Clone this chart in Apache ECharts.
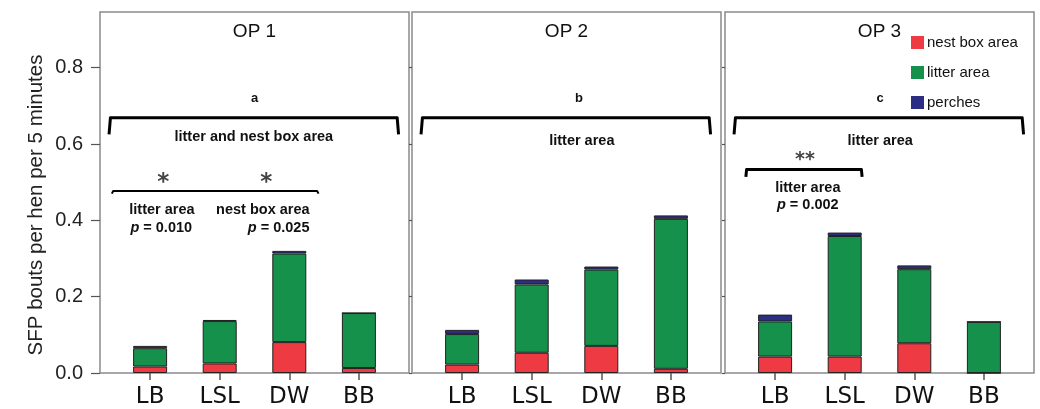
<!DOCTYPE html>
<html><head><meta charset="utf-8">
<script src="https://cdn.jsdelivr.net/npm/echarts@6/dist/echarts.min.js"></script>
<style>html,body{margin:0;padding:0;background:#fff}#c{width:1040px;height:409px}</style>
</head><body><div id="c"></div>
<script>
// ---- data ----
const categories = ['LB', 'LSL', 'DW', 'BB'];
const panelTitles = ['OP 1', 'OP 2', 'OP 3'];
const seriesNames = ['nest box area', 'litter area', 'perches'];
const yTicks = [0, 0.2, 0.4, 0.6, 0.8];
const nestBox1 = [0.017, 0.025, 0.081, 0.013];
const litter1  = [0.048, 0.111, 0.232, 0.144];
const perches1 = [0.006, 0.003, 0.007, 0.000];
const nestBox2 = [0.022, 0.053, 0.071, 0.011];
const litter2  = [0.080, 0.179, 0.200, 0.393];
const perches2 = [0.011, 0.013, 0.008, 0.009];
const nestBox3 = [0.043, 0.043, 0.078, 0.000];
const litter3  = [0.092, 0.316, 0.194, 0.134];
const perches3 = [0.018, 0.009, 0.010, 0.000];
const groupLetters = ['a', 'b', 'c'];
const groupNotes = ['litter and nest box area', 'litter area', 'litter area'];

const panels = [
  [nestBox1, litter1, perches1],
  [nestBox2, litter2, perches2],
  [nestBox3, litter3, perches3]
];
const colors = ['#ee3b43', '#15914b', '#2b2e82'];

// ---- layout ----
const gridLefts = [100, 412, 725];
const gridWidth = 309;
const chart = echarts.init(document.getElementById('c'), null, {renderer: 'canvas'});
const FONT = 'Liberation Sans, Arial, sans-serif';
const idx = categories.map((c, i) => i);

const grids = [], xAxes = [], yAxes = [], series = [], titles = [];
panels.forEach((p, g) => {
  grids.push({left: gridLefts[g], width: gridWidth, top: 12, bottom: 35,
    show: true, borderColor: '#8a8a8a', borderWidth: 1.5, backgroundColor: '#fff'});
  xAxes.push({type: 'value', gridIndex: g, min: -0.72, max: 3.72,
    axisLine: {show: false, onZero: false}, splitLine: {show: false},
    axisTick: {show: true, customValues: idx, length: 7, lineStyle: {color: '#555', width: 1.5}},
    axisLabel: {show: true, customValues: idx, margin: 13, fontFamily: 'DejaVu Sans', fontSize: 23, color: '#111',
      formatter: v => categories[Math.round(v)]}
  });
  yAxes.push({type: 'value', gridIndex: g, min: 0, max: 0.946, interval: 0.2,
    axisLine: {show: false, onZero: false}, splitLine: {show: false},
    axisTick: {show: true, customValues: yTicks, length: g === 0 ? 9 : 3, lineStyle: {color: '#555', width: 1.2}},
    axisLabel: {show: g === 0, customValues: yTicks, margin: 17, fontFamily: FONT, fontSize: 20, color: '#222',
      formatter: v => v.toFixed(1)}
  });
  titles.push({text: panelTitles[g], left: gridLefts[g] + gridWidth / 2, top: 22, textAlign: 'center', padding: 0,
    textStyle: {fontFamily: FONT, fontSize: 19, fontWeight: 'normal', color: '#111'}});
  p.forEach((vals, s) => {
    series.push({type: 'bar', name: seriesNames[s], xAxisIndex: g, yAxisIndex: g, stack: 'op' + g,
      barWidth: 34,
      // value first so that the value dimension is the stacked one
      data: vals.map((v, i) => [v, i]), encode: {x: 1, y: 0},
      itemStyle: {color: colors[s], borderColor: '#222', borderWidth: 1},
      emphasis: {disabled: true}, silent: true});
  });
});

chart.setOption({
  animation: false,
  title: titles,
  grid: grids, xAxis: xAxes, yAxis: yAxes, series: series,
  legend: {data: seriesNames, orient: 'vertical', left: 911, top: 35, padding: 0,
    itemWidth: 13, itemHeight: 13, itemGap: 15, icon: 'rect',
    itemStyle: {borderWidth: 0},
    textStyle: {fontFamily: FONT, fontSize: 15, color: '#111', padding: [0, 0, 0, -2]}}
});

// ---- annotations (placed in data coordinates) ----
const P = (g, x, y) => chart.convertToPixel({gridIndex: g}, [x, y]);
const gfx = [];
function txt(g, x, y, text, opt) {
  const pt = P(g, x, y);
  gfx.push({type: 'text', silent: true, style: Object.assign({
    text: text, x: pt[0], y: pt[1], align: 'center', verticalAlign: 'middle',
    fontFamily: FONT, fontSize: 14.5, fontWeight: 'bold', fill: '#111'}, opt || {})});
}
function line(g, pts, w, color) {
  gfx.push({type: 'polyline', silent: true, shape: {points: pts.map(q => P(g, q[0], q[1]))},
    style: {stroke: color || '#000', lineWidth: w, lineJoin: 'round', lineCap: 'butt', fill: null}});
}
function pText(g, x, y, val, align) {
  const pt = P(g, x, y);
  gfx.push({type: 'text', silent: true, style: {
    text: '{i|p}{n| = ' + val + '}', x: pt[0], y: pt[1], align: align || 'center', verticalAlign: 'middle',
    rich: {i: {fontFamily: FONT, fontSize: 14.5, fontWeight: 'bold', fontStyle: 'italic', fill: '#111'},
           n: {fontFamily: FONT, fontSize: 14.5, fontWeight: 'bold', fill: '#111'}}}});
}
const letterX = [1.5, 1.68, 1.51];
const noteX = [1.49, 1.72, 1.51];
for (let g = 0; g < 3; g++) {
  txt(g, letterX[g], 0.72, groupLetters[g], {fontSize: 13});
  line(g, [[-0.59, 0.625], [-0.57, 0.669], [3.55, 0.669], [3.57, 0.625]], 3);
  txt(g, noteX[g], g === 0 ? 0.618 : 0.607, groupNotes[g]);
}
// OP 1 pairwise comparison
const starStyle = {fontFamily: 'DejaVu Sans', fontSize: 23, fontWeight: 'bold', fill: '#444'};
txt(0, 0.19, 0.498, '*', starStyle);
txt(0, 1.67, 0.498, '*', starStyle);
line(0, [[-0.55, 0.470], [-0.53, 0.477], [2.40, 0.477], [2.42, 0.470]], 2);
txt(0, 0.17, 0.426, 'litter area');
pText(0, 0.16, 0.379, '0.010');
txt(0, 1.62, 0.426, 'nest box area');
pText(0, 2.29, 0.379, '0.025', 'right');
// OP 3 pairwise comparison
txt(2, 0.43, 0.558, '**', {fontFamily: 'DejaVu Sans', fontSize: 19, fontWeight: 'bold', fill: '#444'});
line(2, [[-0.42, 0.514], [-0.41, 0.533], [1.24, 0.533], [1.25, 0.514]], 3);
txt(2, 0.47, 0.486, 'litter area');
pText(2, 0.47, 0.439, '0.002');
// y-axis title
gfx.push({type: 'text', silent: true, rotation: Math.PI / 2, x: 36, y: 205,
  style: {text: 'SFP bouts per hen per 5 minutes', x: 0, y: 0, align: 'center', verticalAlign: 'middle',
    fontFamily: FONT, fontSize: 20.5, fill: '#222'}});
chart.setOption({graphic: gfx});
</script></body></html>
